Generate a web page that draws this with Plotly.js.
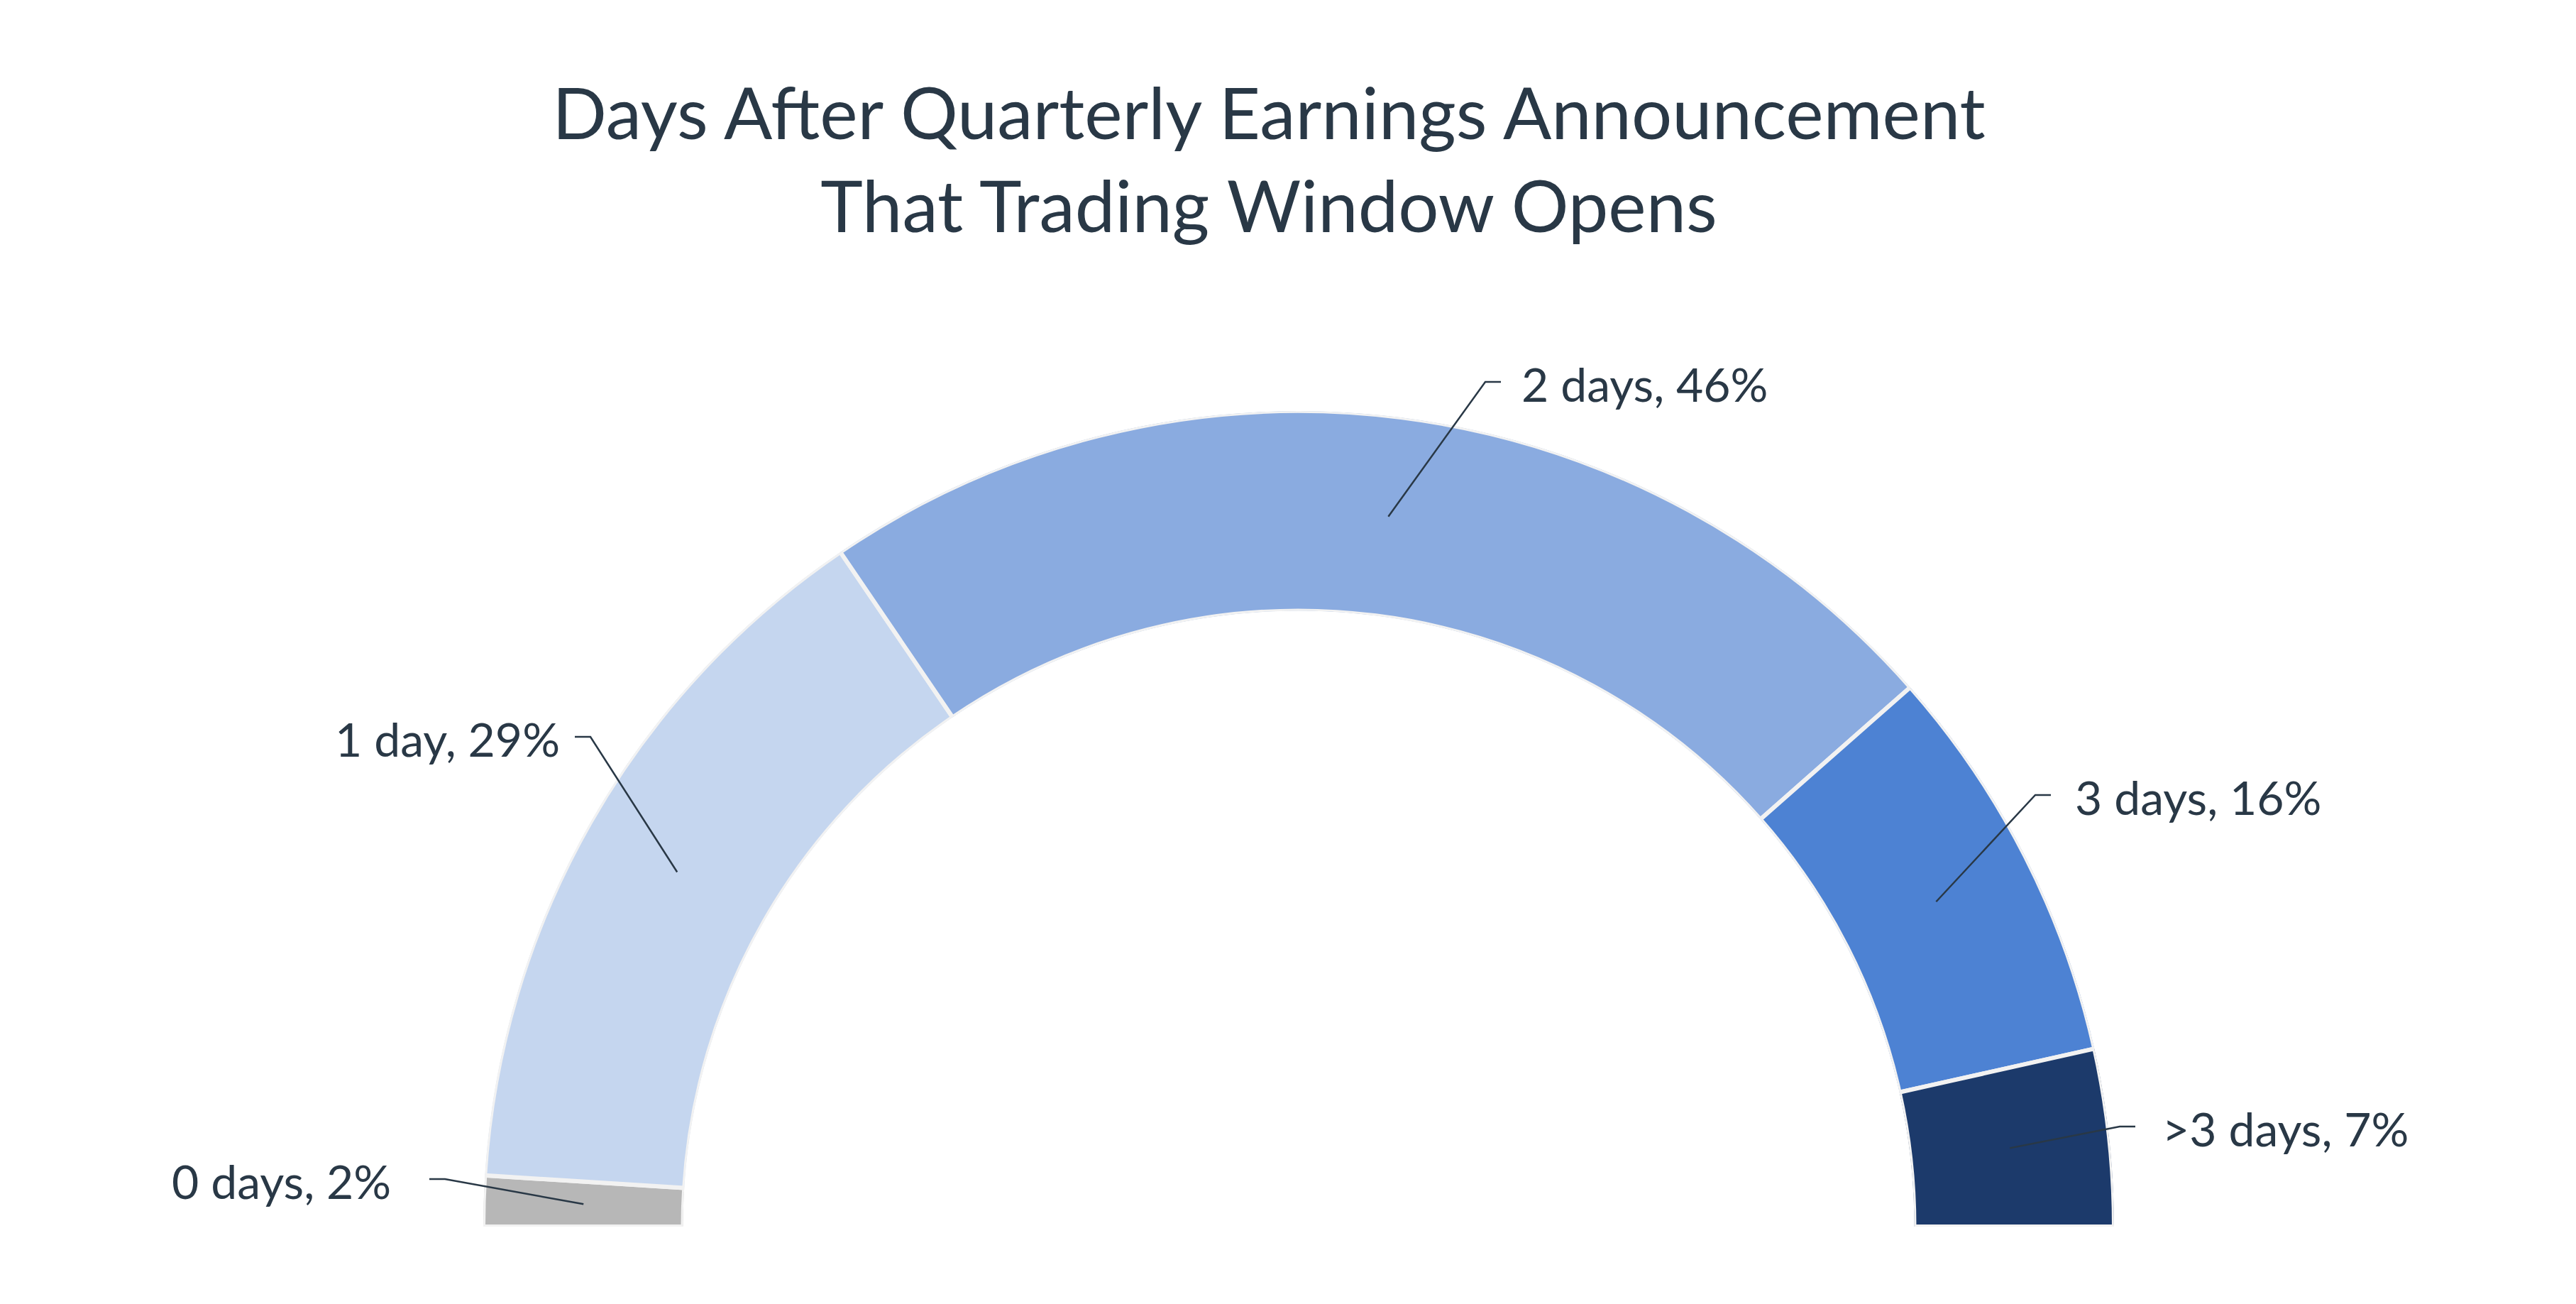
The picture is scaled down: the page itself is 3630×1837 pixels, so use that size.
<!DOCTYPE html>
<html><head><meta charset="utf-8">
<script src="https://cdn.plot.ly/plotly-3.0.1.min.js"></script>
<style>html,body{margin:0;padding:0;background:#fff}#chart{width:3630px;height:1837px}</style>
</head><body><div id="chart"></div>
<script>
// ---- data ----
const categories = ['0 days', '1 day', '2 days', '3 days', '>3 days'];
const shares = [2, 29, 46, 16, 7];
const sliceColors = ['#b7b7b7', '#c5d6ef', '#8aabe0', '#4d82d3', '#1c3a6b'];
const titleText = 'Days After Quarterly Earnings Announcement<br>That Trading Window Opens';

// ---- layout constants (pixels) ----
const W = 3630, H = 1837;
const CX = 1830, CY = 1728, R = 1149, HOLE = 0.755;
const TEXT = '#293846';
const FONT = 'Lato, "Open Sans", sans-serif';
const LABEL_SIZE = 66;
// elbow point of each leader line, side of the text, and the text edge x
const labelSpots = [
  {side: 'left',  ex: 627,  ey: 1661, tx: 553},
  {side: 'left',  ex: 832,  ey: 1038, tx: 791},
  {side: 'right', ex: 2093, ey: 538,  tx: 2142},
  {side: 'right', ex: 2868, ey: 1120, tx: 2922},
  {side: 'right', ex: 2987, ey: 1587, tx: 3045}
];
const ELBOW = 22;

const total = shares.reduce((a, b) => a + b, 0);
const span = 180 / total;
let cum = 0;
const thetas = [], widths = [];
shares.forEach(v => {
  thetas.push(180 - span * (cum + v / 2));
  widths.push(span * v);
  cum += v;
});

const px = x => x / W;
const py = y => 1 - y / H;

const trace = {
  type: 'barpolar',
  r: shares.map(() => 1),
  theta: thetas,
  width: widths,
  base: 0,
  marker: {color: sliceColors, line: {color: '#f2f2f2', width: 6}},
  text: categories,
  hoverinfo: 'text',
  showlegend: false
};

const rMid = R * (1 + HOLE) / 2;
const shapes = [], annotations = [];
labelSpots.forEach((s, i) => {
  const a = thetas[i] * Math.PI / 180;
  const ix = CX + rMid * Math.cos(a);
  const iy = CY - rMid * Math.sin(a);
  const hx = s.side === 'left' ? s.ex - ELBOW : s.ex + ELBOW;
  shapes.push({
    type: 'path', xref: 'paper', yref: 'paper',
    path: `M ${px(ix)},${py(iy)} L ${px(s.ex)},${py(s.ey)} L ${px(hx)},${py(s.ey)}`,
    line: {color: TEXT, width: 2.5}
  });
  annotations.push({
    xref: 'paper', yref: 'paper',
    x: px(s.tx), y: py(s.ey + 2),
    xanchor: s.side === 'left' ? 'right' : 'left', yanchor: 'middle',
    text: `${categories[i]}, ${shares[i]}%`,
    showarrow: false,
    font: {family: FONT, size: LABEL_SIZE, color: TEXT}
  });
});

const layout = {
  width: W, height: H,
  margin: {l: 0, r: 0, t: 0, b: 0},
  paper_bgcolor: '#ffffff',
  showlegend: false,
  title: {
    text: titleText,
    font: {family: FONT, size: 101, color: TEXT},
    x: 1788 / W, xref: 'container', xanchor: 'center',
    y: 1 - 196 / H, yref: 'container', yanchor: 'top'
  },
  polar: {
    domain: {x: [px(CX - R), px(CX + R)], y: [py(CY), py(CY - R)]},
    sector: [0, 180],
    hole: HOLE,
    bgcolor: 'rgba(0,0,0,0)',
    radialaxis: {visible: false, range: [0, 1]},
    angularaxis: {visible: false}
  },
  shapes: shapes,
  annotations: annotations
};

Plotly.newPlot('chart', [trace], layout, {displayModeBar: false, staticPlot: true});
</script></body></html>
